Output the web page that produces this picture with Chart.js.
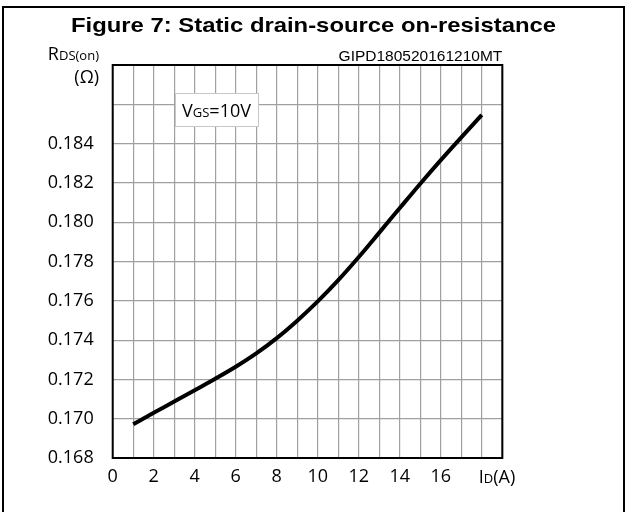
<!DOCTYPE html>
<html>
<head>
<meta charset="utf-8">
<script src="https://cdn.jsdelivr.net/npm/chart.js@4"></script>
<style>
  body { margin: 0; background: #fff; }
  canvas { display: block; }
</style>
</head>
<body>
<canvas id="rdsChart" width="629" height="512"></canvas>
<script>
// DATA
const drainCurrent = [1, 2, 3, 4, 5, 6, 7, 8, 9, 10, 11, 12, 13, 14, 15, 16, 17, 18];
const rdsOn = [0.16972, 0.17030, 0.17087, 0.17145, 0.17203, 0.17264, 0.17332, 0.17410, 0.17499,
               0.17597, 0.17705, 0.17823, 0.17947, 0.18072, 0.18196, 0.18316, 0.18432, 0.18546];
const xLabelTicks = [0, 2, 4, 6, 8, 10, 12, 14, 16];
const yLabelTicks = [0.168, 0.170, 0.172, 0.174, 0.176, 0.178, 0.180, 0.182, 0.184];

const titleText = 'Figure 7: Static drain-source on-resistance';
const codeText = 'GIPD180520161210MT';

const LABEL_FONT = '"Open Sans", "DejaVu Sans", sans-serif';

// draw text made of big / small pieces (like R + DS(on))
function drawParts(ctx, parts, x, y, align) {
    let total = 0;
    parts.forEach(p => {
        ctx.font = p.size + 'px ' + LABEL_FONT;
        total += ctx.measureText(p.t).width;
    });
    let cx = align === 'right' ? x - total : (align === 'center' ? x - total / 2 : x);
    ctx.textAlign = 'left';
    ctx.textBaseline = 'alphabetic';
    parts.forEach(p => {
        ctx.font = p.size + 'px ' + LABEL_FONT;
        ctx.fillText(p.t, cx, y);
        cx += ctx.measureText(p.t).width;
    });
}

const decorPlugin = {
    id: 'decor',
    afterDraw(chart) {
        const ctx = chart.ctx;
        const area = chart.chartArea;
        const xs = chart.scales.x;
        ctx.save();
        ctx.fillStyle = '#000';
        ctx.strokeStyle = '#000';

        // outer frame
        ctx.lineWidth = 2;
        ctx.beginPath();
        ctx.moveTo(3, 512);
        ctx.lineTo(3, 7);
        ctx.lineTo(624, 7);
        ctx.lineTo(624, 512);
        ctx.stroke();

        // title
        ctx.font = 'bold 21px "Liberation Sans", Arial, sans-serif';
        const tw = ctx.measureText(titleText).width;
        ctx.save();
        ctx.translate(313.5, 32);
        ctx.scale(485 / tw, 1);
        ctx.textAlign = 'center';
        ctx.textBaseline = 'alphabetic';
        ctx.fillText(titleText, 0, 0);
        ctx.restore();

        // code at top right of plot
        ctx.font = '15.5px "Liberation Sans", Arial, sans-serif';
        ctx.textAlign = 'right';
        ctx.textBaseline = 'alphabetic';
        ctx.fillText(codeText, area.right, 61);

        // y axis title
        drawParts(ctx, [{ t: 'R', size: 18 }, { t: 'DS(on)', size: 13 }], 99, 60, 'right');
        drawParts(ctx, [{ t: '(Ω)', size: 18 }], 99, 83, 'right');

        // x axis title
        drawParts(ctx, [{ t: 'I', size: 18 }, { t: 'D', size: 13 }, { t: '(A)', size: 18 }],
            xs.getPixelForValue(18) - 3, 483, 'left');

        // V_GS box
        const bx = 175, by = 93, bw = 83, bh = 33;
        ctx.fillStyle = '#fff';
        ctx.fillRect(bx, by, bw, bh);
        ctx.strokeStyle = '#c8c8c8';
        ctx.lineWidth = 1;
        ctx.strokeRect(bx + 0.5, by + 0.5, bw, bh);
        ctx.fillStyle = '#000';
        drawParts(ctx, [{ t: 'V', size: 18 }, { t: 'GS', size: 13 }, { t: '=10V', size: 18 }],
            bx + bw / 2, 117, 'center');

        // plot border
        ctx.strokeStyle = '#000';
        ctx.lineWidth = 2;
        ctx.strokeRect(area.left, area.top, area.right - area.left, area.bottom - area.top);
        ctx.restore();
    }
};

Chart.defaults.color = '#000';
Chart.defaults.font.family = LABEL_FONT;

const ctx = document.getElementById('rdsChart').getContext('2d');

const rdsChart = new Chart(ctx, {
    type: 'line',
    data: {
        datasets: [{
            data: drainCurrent.map((x, i) => ({ x: x, y: rdsOn[i] })),
            borderColor: '#000',
            borderWidth: 4,
            pointRadius: 0,
            fill: false,
            cubicInterpolationMode: 'monotone'
        }]
    },
    options: {
        responsive: false,
        animation: false,
        devicePixelRatio: 1,
        layout: { padding: { left: 0, top: 65, right: 126.7, bottom: 0 } },
        plugins: {
            legend: { display: false },
            tooltip: { enabled: false }
        },
        scales: {
            x: {
                type: 'linear',
                min: 0,
                max: 19,
                afterFit: s => { s.height = 54; },
                grid: { color: '#a0a0a0', lineWidth: 1.2, drawTicks: false },
                border: { display: false },
                ticks: {
                    stepSize: 1,
                    autoSkip: false,
                    maxRotation: 0,
                    padding: 8,
                    font: { size: 18 },
                    callback: v => xLabelTicks.includes(v) ? String(v) : ''
                }
            },
            y: {
                type: 'linear',
                min: 0.168,
                max: 0.188,
                afterFit: s => { s.width = 112.7; },
                grid: { color: '#a0a0a0', lineWidth: 1.2, drawTicks: false },
                border: { display: false },
                ticks: {
                    stepSize: 0.002,
                    autoSkip: false,
                    padding: 19,
                    font: { size: 18 },
                    callback: v => {
                        const hit = yLabelTicks.find(t => Math.abs(t - v) < 1e-6);
                        return hit !== undefined ? hit.toFixed(3) : '';
                    }
                }
            }
        }
    },
    plugins: [decorPlugin]
});
</script>
</body>
</html>
